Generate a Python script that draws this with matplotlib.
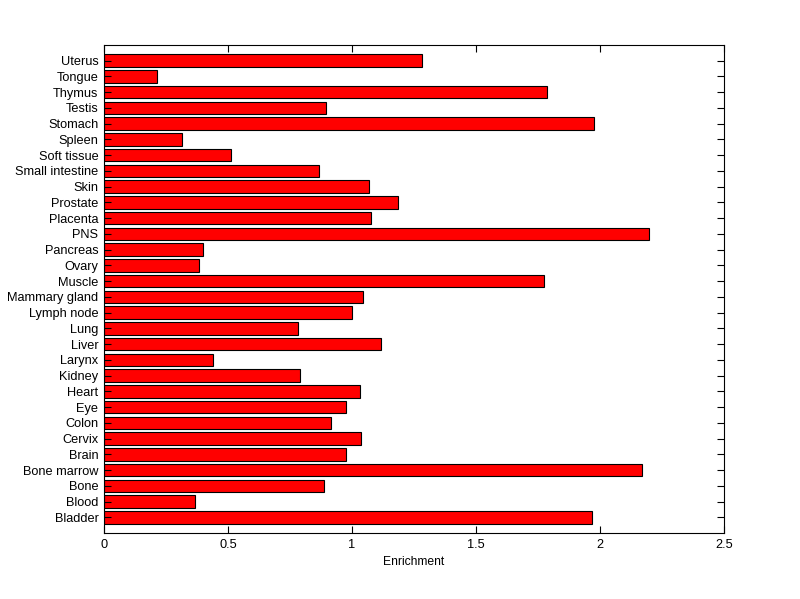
import matplotlib
matplotlib.use('Agg')
import matplotlib.pyplot as plt

tissues = ['Bladder', 'Blood', 'Bone', 'Bone marrow', 'Brain', 'Cervix', 'Colon',
           'Eye', 'Heart', 'Kidney', 'Larynx', 'Liver', 'Lung', 'Lymph node',
           'Mammary gland', 'Muscle', 'Ovary', 'Pancreas', 'PNS', 'Placenta',
           'Prostate', 'Skin', 'Small intestine', 'Soft tissue', 'Spleen',
           'Stomach', 'Testis', 'Thymus', 'Tongue', 'Uterus']
enrichment = [1.969, 0.368, 0.887, 2.169, 0.976, 1.036, 0.915,
              0.976, 1.032, 0.790, 0.440, 1.117, 0.782, 1.000,
              1.044, 1.774, 0.383, 0.399, 2.198, 1.077,
              1.185, 1.069, 0.867, 0.512, 0.315,
              1.976, 0.895, 1.786, 0.214, 1.282]

plt.rcParams['font.family'] = ['Liberation Sans', 'DejaVu Sans']
plt.rcParams['font.size'] = 9.2

fig = plt.figure(figsize=(8, 5.99), dpi=100)
ax = fig.add_axes([0.13, 0.110, 0.775, 0.815])

pos = list(range(1, len(tissues) + 1))
ax.barh(pos, enrichment, height=0.8, color='#ff0000', edgecolor='black', linewidth=0.8)

ax.set_xlim(0, 2.5)
ax.set_ylim(0, len(tissues) + 1)
ax.set_yticks(pos)
ax.set_yticklabels(tissues)
ax.set_xticks([0, 0.5, 1, 1.5, 2, 2.5])
ax.set_xticklabels(['0', '0.5', '1', '1.5', '2', '2.5'])
ax.set_xlabel('Enrichment', fontsize=8.7, labelpad=4)

ax.tick_params(direction='in', top=True, right=True, length=5, width=0.8, pad=4)
for s in ax.spines.values():
    s.set_linewidth(0.8)

fig.savefig('out.png', dpi=100)
